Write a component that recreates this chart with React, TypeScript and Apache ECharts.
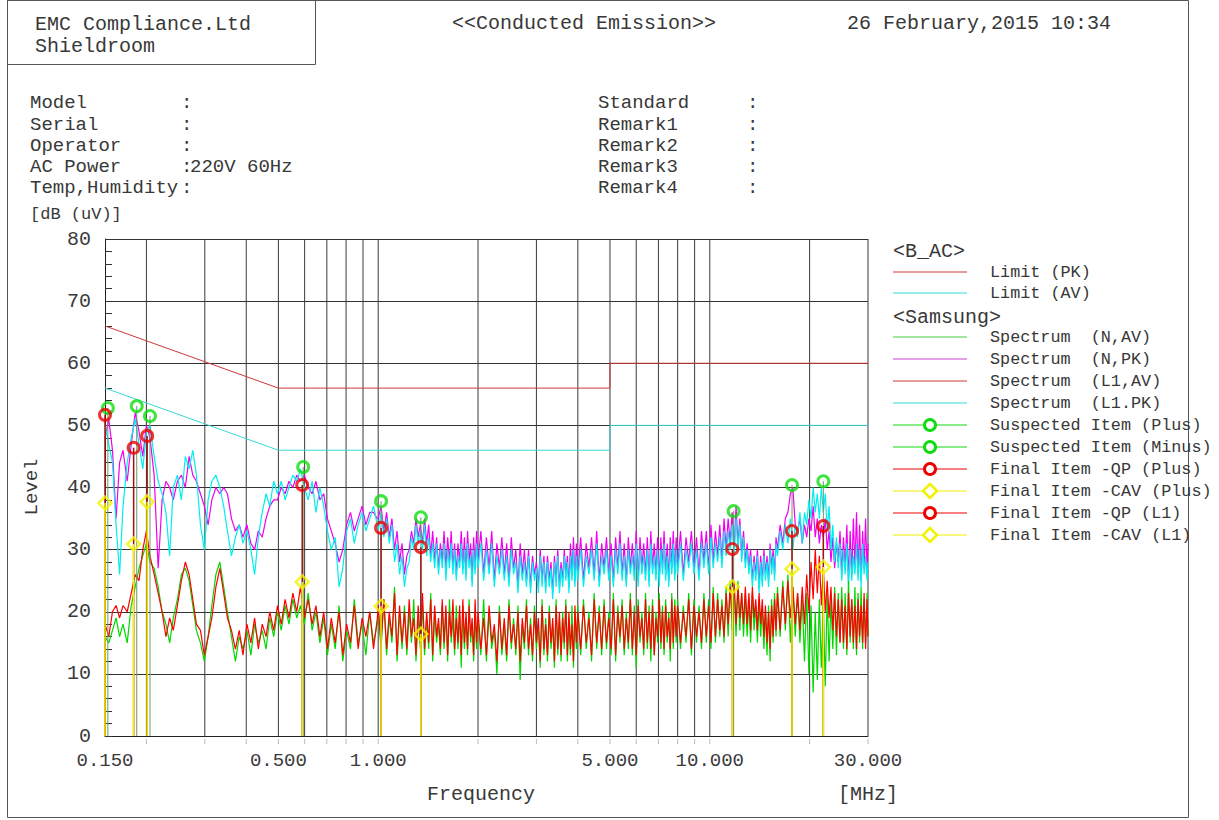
import React, { useEffect, useRef } from "react";
import * as echarts from "echarts";

const FONT = '"Liberation Mono", "DejaVu Sans Mono", monospace';
const TXT = "#383838";

// ---- sweep frequencies (MHz): 0.15–1 MHz, then a denser sweep 1–30 MHz ----
const freqMHz = [
  0.150, 0.154, 0.158, 0.162, 0.166, 0.170, 0.175, 0.180, 0.185, 0.190,
  0.195, 0.200, 0.205, 0.211, 0.217, 0.223, 0.229, 0.235, 0.241, 0.248,
  0.255, 0.262, 0.269, 0.276, 0.283, 0.291, 0.299, 0.307, 0.315, 0.324,
  0.333, 0.342, 0.351, 0.361, 0.371, 0.381, 0.391, 0.402, 0.413, 0.424,
  0.435, 0.447, 0.459, 0.471, 0.484, 0.497, 0.510, 0.524, 0.538, 0.553,
  0.568, 0.583, 0.599, 0.615, 0.632, 0.649, 0.667, 0.685, 0.703, 0.722,
  0.742, 0.762, 0.782, 0.803, 0.825, 0.847, 0.870, 0.894, 0.918, 0.943,
  0.968, 0.994,
  // 1–2 MHz
  1.00, 1.02, 1.04, 1.06, 1.08, 1.10, 1.12, 1.14, 1.16, 1.18,
  1.20, 1.22, 1.24, 1.26, 1.28, 1.30, 1.32, 1.34, 1.36, 1.38,
  1.40, 1.42, 1.44, 1.46, 1.48, 1.50, 1.52, 1.54, 1.56, 1.58,
  1.60, 1.62, 1.64, 1.66, 1.68, 1.70, 1.72, 1.74, 1.76, 1.78,
  1.80, 1.82, 1.84, 1.86, 1.88, 1.90, 1.92, 1.94, 1.96, 1.98,
  // 2–4 MHz
  2.00, 2.04, 2.08, 2.12, 2.16, 2.20, 2.24, 2.28, 2.32, 2.36,
  2.40, 2.44, 2.48, 2.52, 2.56, 2.60, 2.64, 2.68, 2.72, 2.76,
  2.80, 2.84, 2.88, 2.92, 2.96, 3.00, 3.04, 3.08, 3.12, 3.16,
  3.20, 3.24, 3.28, 3.32, 3.36, 3.40, 3.44, 3.48, 3.52, 3.56,
  3.60, 3.64, 3.68, 3.72, 3.76, 3.80, 3.84, 3.88, 3.92, 3.96,
  // 4–8 MHz
  4.00, 4.08, 4.16, 4.24, 4.32, 4.40, 4.48, 4.56, 4.64, 4.72,
  4.80, 4.88, 4.96, 5.04, 5.12, 5.20, 5.28, 5.36, 5.44, 5.52,
  5.60, 5.68, 5.76, 5.84, 5.92, 6.00, 6.08, 6.16, 6.24, 6.32,
  6.40, 6.48, 6.56, 6.64, 6.72, 6.80, 6.88, 6.96, 7.04, 7.12,
  7.20, 7.28, 7.36, 7.44, 7.52, 7.60, 7.68, 7.76, 7.84, 7.92,
  // 8–16 MHz
  8.00, 8.16, 8.32, 8.48, 8.64, 8.80, 8.96, 9.12, 9.28, 9.44,
  9.60, 9.76, 9.92, 10.08, 10.24, 10.40, 10.56, 10.72, 10.88, 11.04,
  11.20, 11.36, 11.52, 11.68, 11.84, 12.00, 12.16, 12.32, 12.48, 12.64,
  12.80, 12.96, 13.12, 13.28, 13.44, 13.60, 13.76, 13.92, 14.08, 14.24,
  14.40, 14.56, 14.72, 14.88, 15.04, 15.20, 15.36, 15.52, 15.68, 15.84,
  // 16–30 MHz
  16.0, 16.3, 16.6, 16.9, 17.2, 17.5, 17.8, 18.1, 18.4, 18.7,
  19.0, 19.3, 19.6, 19.9, 20.2, 20.5, 20.8, 21.1, 21.4, 21.7,
  22.0, 22.3, 22.6, 22.9, 23.2, 23.5, 23.8, 24.1, 24.4, 24.7,
  25.0, 25.3, 25.6, 25.9, 26.2, 26.5, 26.8, 27.1, 27.4, 27.7,
  28.0, 28.3, 28.6, 28.9, 29.2, 29.5, 29.8, 30.0,
];

// ---- Spectrum (L1, PK) : cyan ----
const specL1PK = [
  50, 47, 44, 34, 26, 37, 44, 48, 51, 47,
  43, 49, 50, 45, 41, 39, 36, 29, 40, 42,
  38, 45, 43, 46, 42, 34, 30, 38, 41, 42,
  40, 37, 33, 29, 32, 34, 31, 33, 30, 26,
  32, 36, 39, 37, 41, 39, 41, 38, 40, 42,
  41, 43, 40, 38, 41, 36, 40, 37, 33, 30,
  32, 24, 27, 33, 35, 31, 34, 36, 33, 35,
  37, 34,
  33, 36, 32, 35, 31, 34, 28, 31, 26, 29,
  24, 27, 28, 32, 30, 34, 31, 33, 30, 34,
  29, 32, 28, 31, 27, 31, 26, 30, 27, 31,
  25, 30, 27, 31, 26, 30, 25, 29, 27, 31,
  26, 30, 25, 31, 27, 29, 24, 30, 26, 31,
  27, 31, 25, 30, 26, 31, 24, 29, 26, 30,
  25, 29, 24, 30, 26, 28, 23, 29, 25, 28,
  24, 29, 23, 28, 25, 27, 23, 29, 24, 28,
  23, 28, 24, 27, 22, 28, 24, 29, 23, 27,
  24, 29, 25, 28, 23, 29, 25, 30, 24, 29,
  25, 30, 24, 29, 26, 30, 25, 31, 24, 29,
  26, 30, 25, 29, 24, 30, 26, 31, 25, 29,
  24, 30, 26, 29, 25, 31, 24, 30, 26, 29,
  25, 30, 24, 31, 26, 29, 25, 30, 24, 30,
  26, 31, 25, 29, 24, 30, 26, 31, 25, 30,
  26, 31, 25, 30, 27, 31, 26, 30, 25, 31,
  27, 31, 26, 32, 27, 31, 28, 32, 27, 33,
  29, 33, 30, 34, 29, 35, 30, 34, 28, 32,
  27, 30, 26, 29, 24, 28, 25, 29, 23, 28,
  24, 29, 25, 28, 24, 30, 26, 29, 25, 31,
  29, 33, 30, 34, 31, 35, 30, 34, 32, 36,
  31, 36, 34, 38, 35, 40, 36, 39, 35, 40,
  36, 39, 33, 37, 30, 34, 28, 32, 27, 31,
  25, 30, 26, 31, 24, 30, 25, 29, 26, 31,
  25, 30, 24, 31, 26, 29, 25, 28,
];

// ---- Spectrum (N, PK) : magenta ----
const specNPK = [
  48, 51, 46, 35, 44, 46, 41, 47, 52, 49,
  45, 50, 48, 42, 27, 38, 41, 40, 38, 41,
  42, 40, 45, 42, 41, 39, 37, 34, 38, 40,
  39, 40, 39, 35, 33, 34, 32, 34, 31, 30,
  33, 32, 35, 37, 38, 38, 40, 39, 41, 40,
  42, 41, 42, 40, 39, 41, 38, 39, 35, 33,
  31, 28, 30, 34, 36, 33, 35, 37, 34, 36,
  36, 35,
  35, 37, 33, 36, 32, 35, 30, 33, 28, 31,
  26, 29, 30, 33, 31, 35, 32, 34, 31, 35,
  31, 34, 29, 33, 28, 32, 27, 31, 28, 33,
  27, 32, 28, 33, 27, 31, 26, 31, 28, 33,
  27, 32, 26, 33, 28, 31, 25, 32, 27, 33,
  28, 33, 26, 32, 27, 33, 25, 31, 27, 32,
  26, 31, 25, 32, 27, 30, 24, 31, 26, 30,
  25, 30, 24, 29, 26, 28, 24, 30, 25, 29,
  24, 29, 25, 28, 23, 29, 25, 30, 24, 28,
  25, 30, 26, 29, 24, 31, 26, 32, 25, 31,
  26, 32, 25, 31, 27, 32, 26, 33, 25, 31,
  27, 32, 26, 31, 25, 32, 27, 33, 26, 31,
  25, 32, 27, 31, 26, 33, 25, 32, 27, 31,
  26, 32, 25, 33, 27, 31, 26, 32, 25, 32,
  27, 33, 26, 31, 25, 32, 27, 33, 26, 32,
  27, 33, 26, 32, 28, 33, 27, 32, 26, 33,
  28, 33, 27, 34, 28, 33, 29, 34, 28, 35,
  30, 35, 31, 36, 30, 37, 31, 35, 29, 33,
  28, 31, 27, 30, 25, 29, 26, 30, 24, 29,
  25, 30, 26, 29, 25, 31, 27, 30, 26, 32,
  30, 34, 31, 35, 36, 39, 40, 34, 33, 35,
  31, 34, 32, 35, 33, 37, 32, 35, 31, 34,
  32, 35, 30, 33, 28, 32, 27, 31, 28, 33,
  26, 32, 27, 34, 25, 33, 26, 35, 27, 36,
  26, 34, 25, 33, 27, 35, 26, 31,
];

// ---- Spectrum (L1, AV) : red ----
const specL1AV = [
  18, 16, 20, 21, 19, 21, 20, 23, 26, 25,
  30, 33, 29, 26, 23, 20, 16, 19, 17, 21,
  25, 28, 26, 22, 18, 17, 13, 16, 19, 24,
  27, 23, 19, 17, 14, 17, 13, 18, 15, 19,
  14, 18, 16, 20, 17, 21, 18, 22, 19, 23,
  20, 24, 19, 22, 18, 21, 16, 20, 14, 19,
  15, 20, 13, 18, 15, 21, 14, 19, 16, 20,
  14, 19,
  21, 15, 22, 14, 20, 16, 23, 13, 21, 15,
  20, 14, 22, 16, 19, 13, 21, 15, 23, 14,
  20, 15, 22, 13, 21, 16, 19, 14, 22, 15,
  21, 13, 20, 16, 22, 14, 19, 15, 21, 13,
  22, 15, 20, 14, 21, 16, 19, 13, 22, 15,
  20, 14, 19, 13, 21, 15, 18, 12, 20, 14,
  19, 13, 21, 15, 18, 14, 20, 12, 19, 15,
  21, 14, 18, 13, 20, 15, 19, 12, 21, 14,
  18, 13, 20, 15, 19, 12, 21, 14, 20, 13,
  19, 15, 21, 13, 20, 14, 18, 12, 21, 15,
  20, 14, 21, 15, 19, 13, 22, 15, 20, 14,
  21, 15, 19, 14, 22, 13, 20, 16, 21, 14,
  19, 15, 22, 14, 20, 13, 21, 16, 19, 14,
  22, 15, 20, 14, 21, 13, 19, 16, 22, 15,
  20, 14, 21, 16, 19, 14, 22, 15, 21, 16,
  21, 15, 20, 16, 22, 14, 21, 16, 20, 15,
  22, 16, 21, 15, 23, 16, 22, 17, 21, 16,
  23, 18, 24, 19, 25, 18, 24, 19, 23, 18,
  24, 18, 23, 17, 24, 19, 22, 17, 23, 18,
  22, 16, 21, 15, 20, 14, 21, 16, 22, 17,
  23, 17, 24, 18, 25, 19, 24, 18, 23, 17,
  24, 18, 26, 20, 28, 22, 30, 23, 29, 21,
  27, 20, 25, 19, 24, 17, 23, 16, 22, 15,
  22, 15, 21, 14, 23, 16, 22, 15, 21, 14,
  22, 16, 21, 15, 23, 14, 22, 16,
];

// ---- Spectrum (N, AV) : green ----
const specNAV = [
  16, 15, 17, 19, 16, 18, 15, 21, 24, 27,
  29, 31, 28, 27, 24, 20, 18, 15, 19, 22,
  26, 27, 25, 21, 17, 15, 12, 16, 21, 26,
  28, 24, 20, 16, 12, 16, 14, 17, 13, 18,
  15, 17, 14, 19, 16, 20, 17, 21, 18, 22,
  19, 21, 18, 23, 17, 20, 15, 19, 13, 18,
  14, 21, 12, 17, 14, 22, 15, 18, 13, 20,
  15, 18,
  20, 14, 22, 13, 19, 15, 24, 12, 20, 14,
  21, 13, 20, 15, 22, 12, 19, 14, 21, 13,
  19, 14, 23, 12, 20, 15, 18, 13, 21, 14,
  20, 12, 22, 15, 19, 13, 21, 14, 20, 11,
  21, 14, 19, 13, 22, 15, 18, 12, 20, 14,
  19, 13, 22, 12, 20, 14, 17, 10, 21, 13,
  18, 12, 22, 14, 19, 13, 21, 9, 18, 14,
  22, 13, 19, 12, 21, 14, 18, 11, 22, 13,
  19, 12, 21, 14, 18, 11, 22, 13, 19, 12,
  20, 14, 22, 12, 19, 13, 21, 11, 20, 14,
  21, 13, 22, 14, 20, 12, 23, 14, 21, 13,
  22, 14, 20, 13, 23, 12, 21, 15, 22, 13,
  20, 14, 23, 13, 21, 11, 22, 15, 20, 13,
  23, 14, 21, 12, 22, 13, 20, 15, 23, 14,
  21, 13, 22, 15, 20, 12, 23, 14, 22, 15,
  22, 14, 21, 15, 23, 13, 22, 15, 21, 14,
  23, 15, 22, 14, 24, 15, 23, 16, 22, 15,
  24, 16, 25, 17, 24, 16, 25, 17, 23, 16,
  23, 16, 22, 15, 23, 17, 21, 15, 22, 16,
  21, 14, 20, 13, 21, 12, 22, 15, 23, 16,
  24, 16, 25, 17, 26, 15, 24, 16, 23, 15,
  22, 12, 23, 10, 21, 7, 20, 9, 22, 11,
  21, 8, 23, 12, 22, 14, 24, 13, 23, 15,
  24, 14, 23, 13, 25, 15, 22, 14, 24, 13,
  23, 15, 24, 14, 22, 15, 23, 16,
];

// ---- Limits ----
const limitPKFreq = [0.15, 0.5, 5, 5, 30];
const limitPKLevel = [66, 56, 56, 60, 60];
const limitAVFreq = [0.15, 0.5, 5, 5, 30];
const limitAVLevel = [56, 46, 46, 50, 50];

// ---- Items ----
const suspectedFreq = [0.153, 0.187, 0.205, 0.594, 1.02, 1.345, 11.8, 17.7, 22.0];
const suspectedLevel = [52.8, 53.1, 51.5, 43.3, 37.8, 35.2, 36.2, 40.4, 41.0];
const finalFreq = [0.150, 0.183, 0.201, 0.590, 1.02, 1.345, 11.7, 17.7, 22.0];
const finalQP = [51.7, 46.4, 48.3, 40.4, 33.5, 30.4, 30.1, 33.0, 33.8];
const finalCAV = [37.5, 30.9, 37.7, 24.8, 20.9, 16.4, 24.0, 26.9, 27.2];

// ---- axes ----
const gridFreqs = [0.2, 0.3, 0.4, 0.5, 0.6, 0.7, 0.8, 0.9, 1, 2, 3, 4, 5, 6, 7, 8, 9, 10, 20, 30];
const tickFreqs = [0.15, 0.5, 1, 5, 10, 30];
const tickLabels = ["0.150", "0.500", "1.000", "5.000", "10.000", "30.000"];

const COL = {
  nav: "#00d800",
  npk: "#f000f0",
  l1av: "#ff0000",
  l1pk: "#00eeee",
  limPK: "#d03838",
  limAV: "#38d8d8",
  green: "#10dd10",
  red: "#ee0000",
  yellow: "#f2f200",
};

const zip = (xs: number[], ys: number[]) => xs.map((x, i) => [x, ys[i]]);

function text(x: number, y: number, t: string, size = 20, align = "left", extra: any = {}) {
  return {
    type: "text",
    x,
    y,
    silent: true,
    ...extra,
    style: { text: t, fontSize: size, fontFamily: FONT, fill: TXT, align, verticalAlign: "middle" },
  };
}

function buildGraphic() {
  const els: any[] = [];
  els.push({ type: "rect", silent: true, shape: { x: 7.5, y: 0.5, width: 1181, height: 817 }, style: { fill: "none", stroke: "#555", lineWidth: 1 } });
  els.push({ type: "rect", silent: true, shape: { x: 7.5, y: 0.5, width: 308, height: 64 }, style: { fill: "none", stroke: "#555", lineWidth: 1 } });
  els.push(text(35, 24, "EMC Compliance.Ltd", 20));
  els.push(text(35, 46, "Shieldroom", 20));
  els.push(text(452, 23, "<<Conducted Emission>>", 20));
  els.push(text(847, 23, "26 February,2015 10:34", 20));

  const leftRows = ["Model", "Serial", "Operator", "AC Power", "Temp,Humidity"];
  const rightRows = ["Standard", "Remark1", "Remark2", "Remark3", "Remark4"];
  const rowY = [103, 125, 146, 167, 188];
  leftRows.forEach((r, i) => {
    els.push(text(30, rowY[i], r, 19));
    els.push(text(181, rowY[i], ":", 19));
  });
  els.push(text(190, rowY[3], "220V 60Hz", 19));
  rightRows.forEach((r, i) => {
    els.push(text(598, rowY[i], r, 19));
    els.push(text(747, rowY[i], ":", 19));
  });
  els.push(text(30, 214, "[dB (uV)]", 17));
  els.push(text(32, 487, "Level", 19, "center", { rotation: Math.PI / 2 }));
  els.push(text(481, 794, "Frequency", 20, "center"));
  els.push(text(838, 794, "[MHz]", 20));

  // legend
  const lg: any[] = [
    { head: "<B_AC>", y: 251 },
    { c: COL.limPK, t: "Limit (PK)", y: 272 },
    { c: COL.limAV, t: "Limit (AV)", y: 293 },
    { head: "<Samsung>", y: 317 },
    { c: "#40d040", t: "Spectrum  (N,AV)", y: 337 },
    { c: "#d040d0", t: "Spectrum  (N,PK)", y: 359 },
    { c: COL.limPK, t: "Spectrum  (L1,AV)", y: 381 },
    { c: COL.limAV, t: "Spectrum  (L1.PK)", y: 403 },
    { c: COL.green, t: "Suspected Item (Plus)", y: 425, m: "circle" },
    { c: COL.green, t: "Suspected Item (Minus)", y: 447, m: "circle" },
    { c: COL.red, t: "Final Item -QP (Plus)", y: 469, m: "circle" },
    { c: COL.yellow, t: "Final Item -CAV (Plus)", y: 491, m: "diamond" },
    { c: COL.red, t: "Final Item -QP (L1)", y: 513, m: "circle" },
    { c: COL.yellow, t: "Final Item -CAV (L1)", y: 535, m: "diamond" },
  ];
  lg.forEach((r) => {
    if (r.head) {
      els.push(text(893, r.y, r.head, 20));
      return;
    }
    els.push({ type: "line", silent: true, shape: { x1: 893, y1: r.y, x2: 967, y2: r.y }, style: { stroke: r.c, lineWidth: 1.2 } });
    if (r.m === "circle") {
      els.push({ type: "circle", silent: true, shape: { cx: 930, cy: r.y, r: 5.5 }, style: { fill: "#fff", stroke: r.c, lineWidth: 3 } });
    } else if (r.m === "diamond") {
      els.push({ type: "polygon", silent: true, shape: { points: [[930, r.y - 7], [937, r.y], [930, r.y + 7], [923, r.y]] }, style: { fill: "#fff", stroke: r.c, lineWidth: 2.5 } });
    }
    els.push(text(990, r.y, r.t, 16.8));
  });
  return els;
}

function stemSeries(name: string, fs: number[], vs: number[], color: string, width: number, z: number) {
  return {
    type: "custom",
    name,
    silent: true,
    z,
    clip: false,
    data: zip(fs, vs),
    encode: { x: 0, y: 1 },
    renderItem: (_p: any, api: any) => {
      const f = api.value(0);
      const v = api.value(1);
      const a = api.coord([f, 0]);
      const b = api.coord([f, v]);
      return { type: "line", shape: { x1: a[0], y1: a[1], x2: b[0], y2: b[1] }, style: { stroke: color, lineWidth: width } };
    },
  };
}

function lineSeries(name: string, data: number[][], color: string, z = 2, width = 1) {
  return {
    type: "line",
    name,
    data,
    showSymbol: false,
    symbol: "none",
    z,
    silent: true,
    lineStyle: { color, width },
  };
}

export default function App() {
  const ref = useRef<HTMLDivElement>(null);
  useEffect(() => {
    if (!ref.current) return;
    const chart = echarts.init(ref.current, undefined, { renderer: "svg" });
    const option: any = {
      animation: false,
      backgroundColor: "#fff",
      textStyle: { fontFamily: FONT },
      grid: { left: 105, top: 239, width: 763, height: 497, show: false },
      xAxis: {
        type: "log",
        logBase: 10,
        min: 0.15,
        max: 30,
        axisLine: { show: true, lineStyle: { color: "#222", width: 1 } },
        axisTick: { show: false },
        axisLabel: { show: false },
        splitLine: { show: false },
      },
      yAxis: {
        type: "value",
        min: 0,
        max: 80,
        interval: 10,
        axisLine: { show: true, lineStyle: { color: "#222", width: 1 } },
        axisTick: { show: true, inside: true, length: 7, lineStyle: { color: "#333" } },
        minorTick: { show: true, splitNumber: 5, length: 7, lineStyle: { color: "#333" } },
        axisLabel: { fontSize: 20, color: "#3a3a3a", fontFamily: FONT, margin: 14 },
        splitLine: { show: true, lineStyle: { color: "#333", width: 1 } },
      },
      graphic: { elements: buildGraphic() },
      series: [
        {
          type: "custom",
          name: "vgrid",
          silent: true,
          z: 1,
          clip: false,
          data: gridFreqs.map((f) => [f, 0]),
          encode: { x: 0, y: 1 },
          renderItem: (_p: any, api: any) => {
            const f = api.value(0);
            const a = api.coord([f, 0]);
            const b = api.coord([f, 80]);
            return {
              type: "group",
              children: [
                { type: "line", shape: { x1: a[0], y1: a[1], x2: b[0], y2: b[1] }, style: { stroke: "#3a3a3a", lineWidth: 1 } },
                { type: "line", shape: { x1: a[0], y1: a[1] + 3, x2: a[0], y2: a[1] + 8 }, style: { stroke: "#bbb", lineWidth: 1 } },
              ],
            };
          },
        },
        {
          type: "custom",
          name: "xlabels",
          silent: true,
          z: 1,
          clip: false,
          data: tickFreqs.map((f) => [f, 0]),
          encode: { x: 0, y: 1 },
          renderItem: (p: any, api: any) => {
            const f = api.value(0);
            const a = api.coord([f, 0]);
            return {
              type: "text",
              x: a[0],
              y: a[1] + 25,
              style: { text: tickLabels[p.dataIndex], fontSize: 19, fontFamily: FONT, fill: "#3a3a3a", align: "center", verticalAlign: "middle" },
            };
          },
        },
        lineSeries("Spectrum (N,PK)", zip(freqMHz, specNPK), COL.npk, 2, 1.2),
        lineSeries("Spectrum (L1.PK)", zip(freqMHz, specL1PK), COL.l1pk, 2, 1.2),
        lineSeries("Spectrum (N,AV)", zip(freqMHz, specNAV), COL.nav, 2, 1.2),
        lineSeries("Spectrum (L1,AV)", zip(freqMHz, specL1AV), COL.l1av, 2, 1.2),
        lineSeries("Limit (PK)", zip(limitPKFreq, limitPKLevel), COL.limPK, 2),
        lineSeries("Limit (AV)", zip(limitAVFreq, limitAVLevel), COL.limAV, 2),
        stemSeries("stem suspected", suspectedFreq, suspectedLevel, "#6a9a6a", 1, 3),
        stemSeries("stem QP", finalFreq, finalQP, "#a01010", 1.5, 3),
        stemSeries("stem CAV", finalFreq, finalCAV, COL.yellow, 1.5, 3),
        {
          type: "scatter",
          name: "Suspected Item",
          z: 5,
          clip: false,
          silent: true,
          data: zip(suspectedFreq, suspectedLevel),
          symbol: "circle",
          symbolSize: 11,
          itemStyle: { color: "rgba(255,255,255,0)", borderColor: COL.green, borderWidth: 3 },
        },
        {
          type: "scatter",
          name: "Final Item -QP",
          z: 5,
          clip: false,
          silent: true,
          data: zip(finalFreq, finalQP),
          symbol: "circle",
          symbolSize: 11,
          itemStyle: { color: "rgba(255,255,255,0)", borderColor: COL.red, borderWidth: 3 },
        },
        {
          type: "scatter",
          name: "Final Item -CAV",
          z: 5,
          clip: false,
          silent: true,
          data: zip(finalFreq, finalCAV),
          symbol: "diamond",
          symbolSize: 13,
          itemStyle: { color: "rgba(255,255,255,0)", borderColor: COL.yellow, borderWidth: 2.5 },
        },
      ],
    };
    chart.setOption(option);
    return () => chart.dispose();
  }, []);
  return (
    <div
      ref={ref}
      style={{ position: "fixed", left: 0, top: 0, width: 1219, height: 820, background: "#fff" }}
    />
  );
}
